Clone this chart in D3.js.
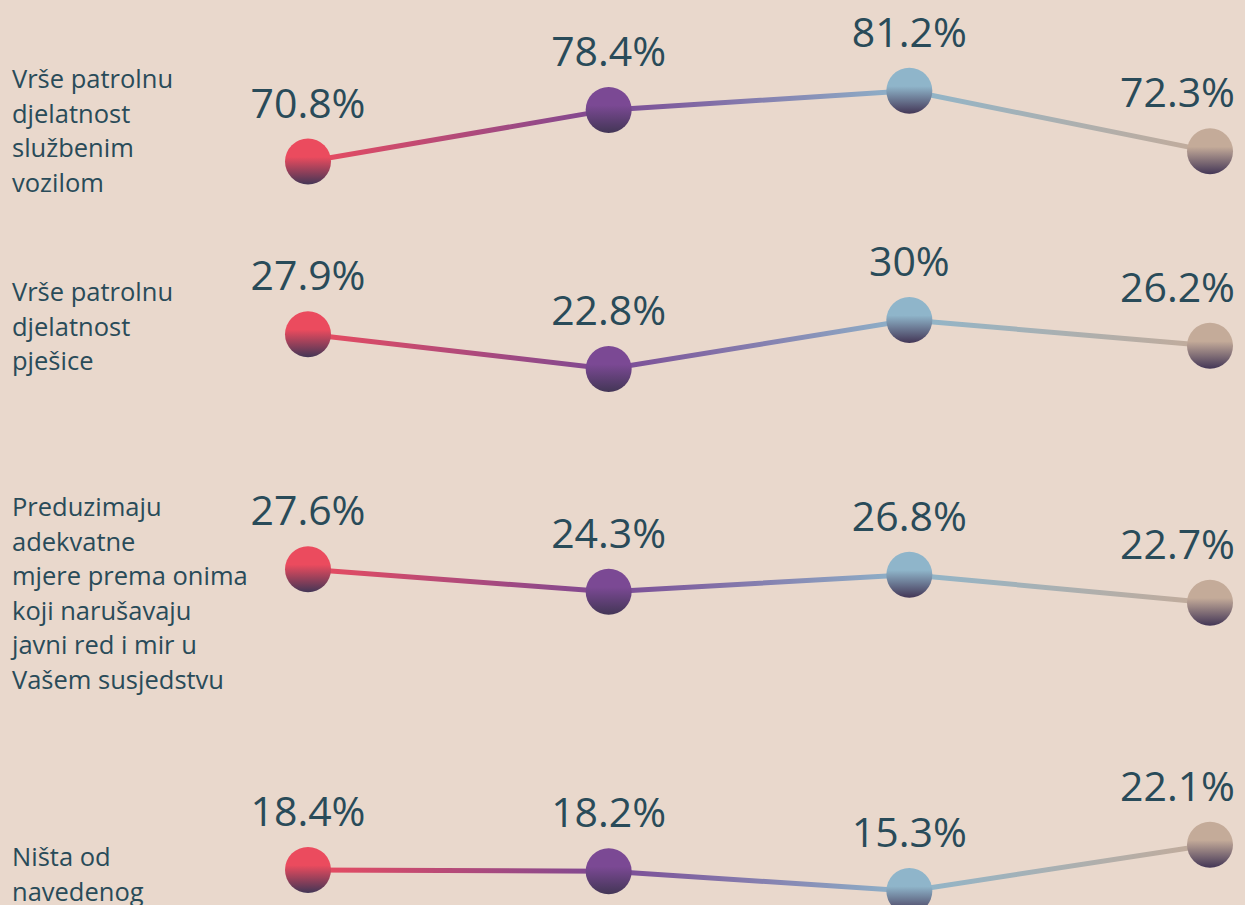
<!DOCTYPE html>
<html>
<head>
<meta charset="utf-8">
<script src="https://cdn.jsdelivr.net/npm/d3@7"></script>
<style>
  html, body { margin: 0; padding: 0; background: #e9d8cc; overflow: hidden; }
  text { font-family: "Open Sans", sans-serif; fill: #294b59; }
</style>
</head>
<body>
<div id="my_dataviz"></div>
<script>
// data
var columns = ["c1", "c2", "c3", "c4"];
var rowLabels = [
  ["Vrše patrolnu", "djelatnost", "službenim", "vozilom"],
  ["Vrše patrolnu", "djelatnost", "pješice"],
  ["Preduzimaju", "adekvatne", "mjere prema onima", "koji narušavaju", "javni red i mir u", "Vašem susjedstvu"],
  ["Ništa od", "navedenog"]
];
var row1 = [70.8, 78.4, 81.2, 72.3];
var row2 = [27.9, 22.8, 30, 26.2];
var row3 = [27.6, 24.3, 26.8, 22.7];
var row4 = [18.4, 18.2, 15.3, 22.1];
var rows = [row1, row2, row3, row4];
var colColors = ["#eb4b5e", "#7b4994", "#8fb5ca", "#c4ab99"];

// layout
var width = 1245, height = 905;
var rowBase = [643, 524, 757, 995];   // y of 0% for each row
var pxPerPct = 6.8;
var labelTop = [79, 292, 507, 857];

var svg = d3.select("#my_dataviz")
  .append("svg")
    .attr("width", width)
    .attr("height", height);

var defs = svg.append("defs");

var x = d3.scalePoint()
  .domain(columns)
  .range([308, 1210]);

// line gradient across the columns
var lg = defs.append("linearGradient")
  .attr("id", "lineGrad")
  .attr("gradientUnits", "userSpaceOnUse")
  .attr("x1", x(columns[0])).attr("x2", x(columns[3]))
  .attr("y1", 0).attr("y2", 0);
colColors.forEach(function(c, i) {
  lg.append("stop").attr("offset", i / 3).attr("stop-color", c);
});

// dot gradients
colColors.forEach(function(c, i) {
  var g = defs.append("linearGradient")
    .attr("id", "dot" + i)
    .attr("x1", 0).attr("x2", 0).attr("y1", 0).attr("y2", 1);
  g.append("stop").attr("offset", 0).attr("stop-color", c);
  g.append("stop").attr("offset", 0.4).attr("stop-color", c);
  g.append("stop").attr("offset", 1).attr("stop-color", "#433656");
});

rows.forEach(function(vals, r) {
  var y = d3.scaleLinear()
    .domain([0, 100])
    .range([rowBase[r], rowBase[r] - 100 * pxPerPct]);

  var data = vals.map(function(v, i) { return { col: columns[i], value: v, i: i }; });
  var g = svg.append("g");

  // row label
  var lab = g.append("text")
    .attr("x", 12)
    .attr("font-size", 25.5);
  rowLabels[r].forEach(function(t, k) {
    lab.append("tspan")
      .attr("x", 12)
      .attr("y", labelTop[r] + 9 + k * 34.5)
      .text(t);
  });

  // line
  g.append("path")
    .datum(data)
    .attr("fill", "none")
    .attr("stroke", "url(#lineGrad)")
    .attr("stroke-width", 5)
    .attr("d", d3.line()
      .x(function(d) { return x(d.col); })
      .y(function(d) { return y(d.value); })
    );

  // dots
  g.selectAll("circle")
    .data(data)
    .enter()
    .append("circle")
      .attr("cx", function(d) { return x(d.col); })
      .attr("cy", function(d) { return y(d.value); })
      .attr("r", 23)
      .attr("fill", function(d) { return "url(#dot" + d.i + ")"; });

  // value labels
  g.selectAll("text.val")
    .data(data)
    .enter()
    .append("text")
      .attr("class", "val")
      .attr("text-anchor", "middle")
      .attr("font-size", 41)
      .attr("font-family", "Lato, sans-serif")
      .attr("x", function(d) { return x(d.col); })
      .attr("y", function(d) { return y(d.value) - 44; })
      .text(function(d) { return d.value + "%"; })
      .each(function() {
        // keep the label inside the page
        var w = this.getComputedTextLength();
        var cx = +d3.select(this).attr("x");
        if (cx + w / 2 > width - 10) d3.select(this).attr("x", width - 10 - w / 2);
      });
});
</script>
</body>
</html>
